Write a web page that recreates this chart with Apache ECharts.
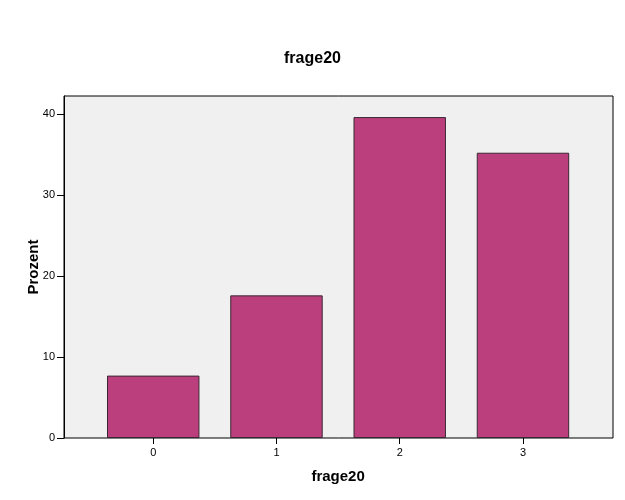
<!DOCTYPE html>
<html>
<head>
<meta charset="utf-8">
<script src="https://cdn.jsdelivr.net/npm/echarts@6/dist/echarts.min.js"></script>
<style>html,body{margin:0;padding:0;background:#fff}#c{width:625px;height:500px}</style>
</head>
<body>
<div id="c"></div>
<script>
const categories = ['0', '1', '2', '3'];
const percentValues = [7.7, 17.6, 39.6, 35.2];
const yTicks = [0, 10, 20, 30, 40];
const chartTitle = 'frage20';
const yAxisTitle = 'Prozent';
const xAxisTitle = 'frage20';

const yMax = 42.2;
const chart = echarts.init(document.getElementById('c'), null, {renderer: 'canvas'});
const font = 'Liberation Sans, Arial, sans-serif';
chart.setOption({
  animation: false,
  backgroundColor: '#ffffff',
  title: {
    text: chartTitle, left: 'center', top: 46,
    textStyle: {fontFamily: font, fontSize: 16, fontWeight: 'bold', color: '#000'}
  },
  grid: [
    {left: 64, right: 12, top: 96, bottom: 62,
     show: true, backgroundColor: '#f0f0f0', borderColor: '#000', borderWidth: 1},
    {left: 91.6, right: 40.4, top: 96, bottom: 62, show: false}
  ],
  xAxis: [
    {type: 'value', gridIndex: 0, min: 0, max: 1, show: false},
    {
      type: 'category', gridIndex: 1, data: categories,
      name: xAxisTitle, nameLocation: 'middle', nameGap: 31,
      nameTextStyle: {fontFamily: font, fontSize: 15, fontWeight: 'bold', color: '#000'},
      axisLine: {show: false},
      axisTick: {show: true, alignWithLabel: true, length: 6, lineStyle: {color: '#000'}},
      axisLabel: {fontFamily: font, fontSize: 11, color: '#000', margin: 9}
    }
  ],
  yAxis: [
    {
      type: 'value', gridIndex: 0, min: 0, max: yMax, interval: 10,
      name: yAxisTitle, nameLocation: 'middle', nameGap: 23, nameMoveOverlap: false,
      nameTextStyle: {fontFamily: font, fontSize: 15, fontWeight: 'bold', color: '#000'},
      axisLine: {show: true, lineStyle: {color: '#000', width: 1}},
      axisTick: {show: true, length: 7, lineStyle: {color: '#000'}},
      axisLabel: {fontFamily: font, fontSize: 11, color: '#000', margin: 9, showMaxLabel: false,
        formatter: v => (yTicks.indexOf(v) >= 0 ? String(v) : '')},
      splitLine: {show: false}
    },
    {type: 'value', gridIndex: 1, min: 0, max: yMax, show: false, splitLine: {show: false}}
  ],
  series: [{
    type: 'bar', xAxisIndex: 1, yAxisIndex: 1, data: percentValues, barWidth: '75%',
    itemStyle: {color: '#bb3f7c', borderColor: '#3b2733', borderWidth: 1}
  }]
});
</script>
</body>
</html>
